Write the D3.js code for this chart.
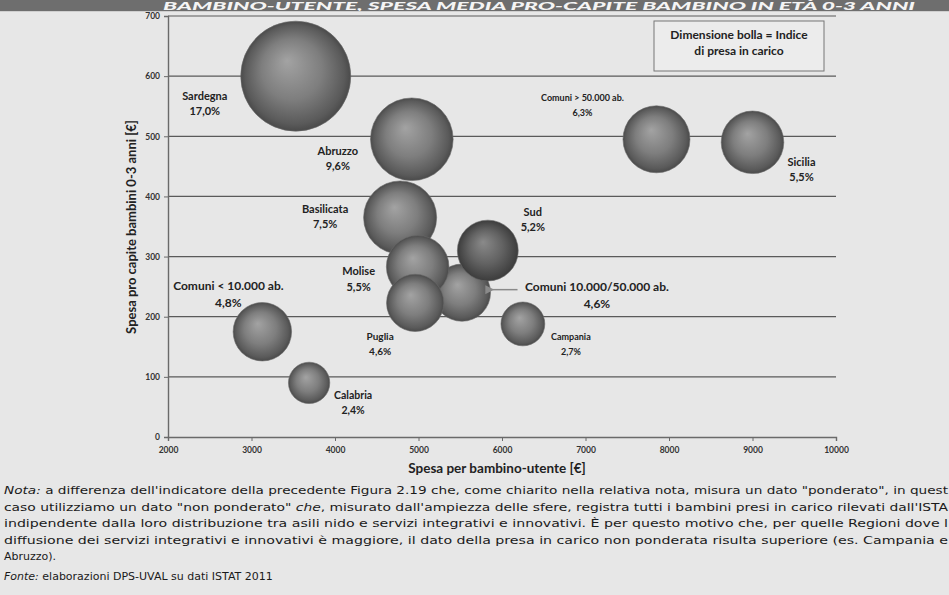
<!DOCTYPE html>
<html><head><meta charset="utf-8">
<script src="https://cdn.jsdelivr.net/npm/d3@7/dist/d3.min.js"></script>
<style>
html,body{margin:0;padding:0;background:#e7e7e7;}
svg{display:block;}
</style></head>
<body>
<svg id="c" width="949" height="595"></svg>
<script>
// ---- data ----
const names = ["Sardegna","Abruzzo","Basilicata","Comuni 10.000/50.000 ab.","Sud","Molise","Puglia","Campania","Comuni < 10.000 ab.","Calabria","Comuni > 50.000 ab.","Sicilia"];
const spesaUtente = [3530, 4920, 4780, 5520, 5830, 4990, 4960, 6250, 3130, 3690, 7850, 9000];
const spesaProCapite = [600, 495, 365, 240, 310, 283, 223, 188, 175, 90, 495, 490];
const presaInCarico = [17.0, 9.6, 7.5, 4.6, 5.2, 5.5, 4.6, 2.7, 4.8, 2.4, 6.3, 5.5];
const xTicks = [2000,3000,4000,5000,6000,7000,8000,9000,10000];
const yTicks = [0,100,200,300,400,500,600,700];

// ---- layout / style (not data) ----
const labelOffsets = { // [dx, dy] of label centre from bubble centre, px
  "Sardegna":[-91,20], "Abruzzo":[-74,12], "Basilicata":[-75,-8],
  "Comuni 10.000/50.000 ab.":[135,-5], "Sud":[45,-38], "Molise":[-59,5],
  "Puglia":[-35,34], "Campania":[48,13], "Comuni < 10.000 ab.":[-34,-45],
  "Calabria":[44,13], "Comuni > 50.000 ab.":[-74,-42], "Sicilia":[49,20]
};
const labelSize = {"Comuni < 10.000 ab.":12, "Comuni 10.000/50.000 ab.":12, "Campania":9, "Comuni > 50.000 ab.":9, "Puglia":10, "Calabria":10.5};

const svg = d3.select("#c");
const defs = svg.append("defs");
const g1 = defs.append("radialGradient").attr("id","ball").attr("cx","50%").attr("cy","50%").attr("r","50%").attr("fx","42%").attr("fy","36%");
g1.append("stop").attr("offset","0%").attr("stop-color","#a3a3a3");
g1.append("stop").attr("offset","55%").attr("stop-color","#7e7e7e");
g1.append("stop").attr("offset","90%").attr("stop-color","#5a5a5a");
g1.append("stop").attr("offset","100%").attr("stop-color","#4a4a4a");
const g2 = defs.append("radialGradient").attr("id","ballDark").attr("cx","50%").attr("cy","50%").attr("r","50%").attr("fx","42%").attr("fy","36%");
g2.append("stop").attr("offset","0%").attr("stop-color","#8a8a8a");
g2.append("stop").attr("offset","55%").attr("stop-color","#636363");
g2.append("stop").attr("offset","100%").attr("stop-color","#3c3c3c");

// title band
svg.append("rect").attr("x",0).attr("y",0).attr("width",949).attr("height",11).attr("fill","#6e6e6e");
svg.append("text").attr("x",163).attr("y",9.5).attr("textLength",752).attr("lengthAdjust","spacingAndGlyphs")
  .attr("font-family","Lato, sans-serif").attr("font-weight","900").attr("font-style","italic").attr("font-size",11)
  .attr("fill","#f4f4f4").text("BAMBINO-UTENTE, SPESA MEDIA PRO-CAPITE BAMBINO IN ETÀ 0-3 ANNI");
svg.append("rect").attr("x",0).attr("y",11).attr("width",949).attr("height",1).attr("fill","#cfcfcf");

const x = d3.scaleLinear().domain([2000,10000]).range([168,836]);
const y = d3.scaleLinear().domain([0,700]).range([437,16]);
const r = d3.scaleSqrt().domain([0,17]).range([0,55]);

// gridlines
svg.append("g").selectAll("line").data(yTicks.filter(d=>d>0)).join("line")
  .attr("x1",168).attr("x2",836).attr("y1",d=>y(d)).attr("y2",d=>y(d))
  .attr("stroke","#5a5a5a").attr("stroke-width",1.2);

// axes
const yAxis = d3.axisLeft(y).tickValues(yTicks).tickSize(4).tickFormat(d3.format("d"));
const ya = svg.append("g").attr("transform","translate(168,0)").call(yAxis);
const xAxis = d3.axisBottom(x).tickValues(xTicks).tickSize(4).tickFormat(d3.format("d"));
const xa = svg.append("g").attr("transform","translate(0,437)").call(xAxis);
[ya,xa].forEach(a=>{
  a.select(".domain").attr("stroke","#6a6a6a").attr("stroke-width",1.4);
  a.selectAll(".tick line").attr("stroke","#6a6a6a");
  a.selectAll(".tick text").attr("font-family","Lato, sans-serif").attr("font-weight","700").attr("font-size",8.5).attr("fill","#333");
});
ya.selectAll(".tick text").attr("x",-8);
xa.selectAll(".tick text").attr("y",10);

// axis titles
svg.append("text").attr("transform","translate(136,227) rotate(-90)").attr("text-anchor","middle")
  .attr("font-family","Lato, sans-serif").attr("font-weight","700").attr("font-size",13).attr("fill","#222")
  .text("Spesa pro capite bambini 0-3 anni [€]");
svg.append("text").attr("x",497).attr("y",473).attr("text-anchor","middle")
  .attr("font-family","Lato, sans-serif").attr("font-weight","700").attr("font-size",13.5).attr("fill","#222")
  .text("Spesa per bambino-utente [€]");

// legend box
svg.append("rect").attr("x",654).attr("y",21).attr("width",170).attr("height",50)
  .attr("fill","#ececec").attr("stroke","#777").attr("stroke-width",1);
svg.append("text").attr("x",739).attr("y",39).attr("text-anchor","middle")
  .attr("font-family","Lato, sans-serif").attr("font-weight","700").attr("font-size",12).attr("fill","#222")
  .text("Dimensione bolla = Indice");
svg.append("text").attr("x",739).attr("y",55).attr("text-anchor","middle")
  .attr("font-family","Lato, sans-serif").attr("font-weight","700").attr("font-size",12).attr("fill","#222")
  .text("di presa in carico");

// bubbles
const data = names.map((n,i)=>({name:n, x:spesaUtente[i], y:spesaProCapite[i], v:presaInCarico[i]}));
svg.append("g").selectAll("circle").data(data).join("circle")
  .attr("cx",d=>x(d.x)).attr("cy",d=>y(d.y)).attr("r",d=>r(d.v))
  .attr("fill",d=>d.name==="Sud"?"url(#ballDark)":"url(#ball)")
  .attr("stroke","#6a6a6a").attr("stroke-width",0.6);

// arrow for Comuni 10.000/50.000
const c1050 = data.find(d=>d.name==="Comuni 10.000/50.000 ab.");
const ax0 = x(c1050.x)+r(c1050.v);
defs.append("marker").attr("id","arr").attr("viewBox","0 0 10 10").attr("refX",2).attr("refY",5)
  .attr("markerWidth",6).attr("markerHeight",6).attr("orient","auto")
  .append("path").attr("d","M10,0 L0,5 L10,10 z").attr("fill","#8a8a8a");
svg.append("line").attr("x1",ax0+27).attr("x2",ax0+2).attr("y1",y(c1050.y)-3).attr("y2",y(c1050.y)-3)
  .attr("stroke","#8a8a8a").attr("stroke-width",1.5).attr("marker-end","url(#arr)");

// labels
const lab = svg.append("g").attr("font-family","Lato, sans-serif").attr("font-weight","700").attr("fill","#222").attr("text-anchor","middle");
data.forEach(d=>{
  const o = labelOffsets[d.name];
  const fs = labelSize[d.name] || 11;
  const cx = x(d.x)+o[0], cy = y(d.y)+o[1];
  const t = lab.append("text").attr("font-size",fs);
  t.append("tspan").attr("x",cx).attr("y",cy+3.5).text(d.name);
  t.append("tspan").attr("x",cx).attr("y",cy+3.5+Math.max(fs*1.4,15)).text(d3.format(".1f")(d.v).replace(".",",")+"%");
});

// footnote
const note = svg.append("g").attr("font-family","'DejaVu Sans', sans-serif").attr("font-size",11).attr("fill","#1a1a1a");
const lines = [
  [["Nota:",true],[" a differenza dell'indicatore della precedente Figura 2.19 che, come chiarito nella relativa nota, misura un dato \"ponderato\", in quest",false]],
  [["caso utilizziamo un dato \"non ponderato\" ",false],["che",true],[", misurato dall'ampiezza delle sfere, registra tutti i bambini presi in carico rilevati dall'ISTA",false]],
  [["indipendente dalla loro distribuzione tra asili nido e servizi integrativi e innovativi. È per questo motivo che, per quelle Regioni dove l",false]],
  [["diffusione dei servizi integrativi e innovativi è maggiore, il dato della presa in carico non ponderata risulta superiore (es. Campania e",false]],
  [["Abruzzo).",false]],
  [["Fonte:",true],[" elaborazioni DPS-UVAL su dati ISTAT 2011",false]]
];
const lineY = [494, 511, 527, 544, 560, 580];
const lineW = [944, 944, 944, 944, 0, 0];
lines.forEach((ln,i)=>{
  const t = note.append("text").attr("x",4).attr("y",lineY[i]);
  ln.forEach(p=>t.append("tspan").attr("font-style",p[1]?"italic":"normal").text(p[0]));
  if(lineW[i]) t.attr("textLength",lineW[i]).attr("lengthAdjust","spacingAndGlyphs");
});
</script>
</body></html>
